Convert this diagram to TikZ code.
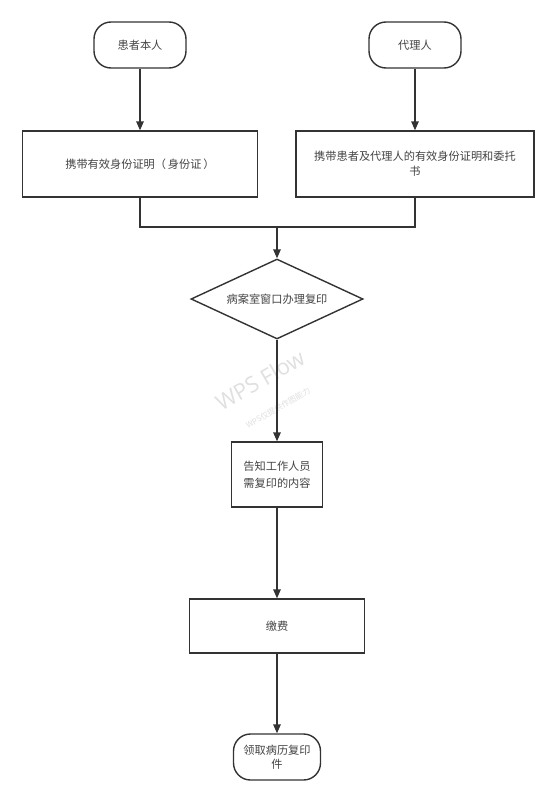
\documentclass[tikz,border=0pt]{standalone}
\usepackage{fontspec}
\newfontfamily\cjk{Noto Sans CJK SC}
\usetikzlibrary{shapes.geometric,arrows.meta,calc}
\definecolor{linec}{HTML}{333333}
\definecolor{textc}{HTML}{444444}
\tikzset{
  base/.style={draw=linec, line width=1.4pt, text=textc, align=center, inner sep=0pt,
    font=\cjk\fontsize{11.2}{15}\selectfont},
  term/.style={base, rounded corners=17pt},
  procbox/.style={base, rectangle},
  decision/.style={base, diamond, aspect=2.15},
  conn/.style={draw=linec, line width=1.4pt},
  arr/.style={conn, -{Triangle[length=9pt,width=7.5pt]}},
}
\begin{document}
\begin{tikzpicture}[x=1pt,y=-1pt]
\useasboundingbox (0,0) rectangle (554,803);
\fill[white] (0,0) rectangle (554,803);
% watermark
\node[rotate=30, text=black!12, font=\fontspec{Open Sans}\fontsize{22}{22}\selectfont] (wm) at (260,380) {WPS Flow};
\node[rotate=30, text=black!12, font=\cjk\fontsize{8}{8}\selectfont] (wm2) at (278,408) {WPS仅提供作图能力};
% nodes
\node[term, minimum width=92pt, minimum height=46pt] (p1) at (140,45) {患者本人};
\node[term, minimum width=92pt, minimum height=46pt] (p2) at (415,45) {代理人};
\node[procbox, minimum width=235pt, minimum height=66pt] (b1) at (140,164) {携带有效身份证明（\,身份证\,）};
\node[procbox, minimum width=238pt, minimum height=66pt] (b2) at (415,164) {携带患者及代理人的有效身份证明和委托\\书};
\coordinate (j) at (277,227);
\node[decision, minimum width=172pt, minimum height=80pt] (d) at (277,299) {病案室窗口办理复印};
\node[procbox, minimum width=91pt, minimum height=65pt, font=\cjk\fontsize{11.2}{17.5}\selectfont] (b3) at (277,474.5) {告知工作人员\\需复印的内容};
\node[procbox, minimum width=175pt, minimum height=54pt] (b4) at (277,626) {缴费};
\node[term, minimum width=87pt, minimum height=46pt, font=\cjk\fontsize{11.2}{14}\selectfont] (t) at (277,757) {领取病历复印\\件};
% connectors
\draw[arr] (p1.south) -- (b1.north);
\draw[arr] (p2.south) -- (b2.north);
\draw[conn] (b1.south) |- (j) -| (b2.south);
\draw[arr] (j) -- (d.north);
\draw[arr] (d.south) -- (b3.north);
\draw[arr] (b3.south) -- (b4.north);
\draw[arr] (b4.south) -- (t.north);
\end{tikzpicture}
\end{document}
